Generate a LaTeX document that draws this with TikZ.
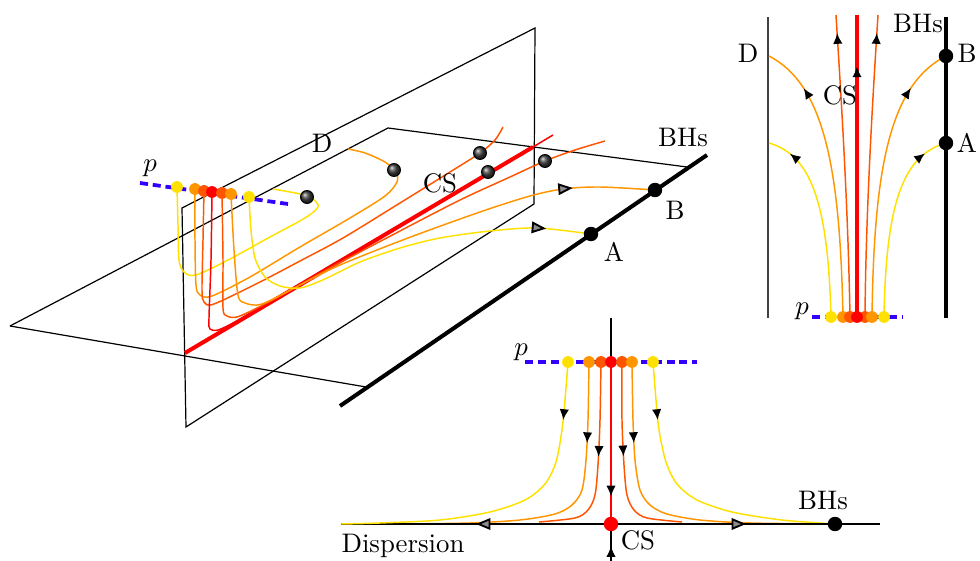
\documentclass[tikz,border=0pt]{standalone}
\usepackage{tikz}
\usetikzlibrary{arrows.meta, decorations.markings}

\definecolor{cyel}{RGB}{255,225,0}
\definecolor{corg}{RGB}{255,150,0}
\definecolor{cored}{RGB}{255,85,0}
\definecolor{pblue}{RGB}{51,0,255}

\tikzset{
  frame/.style={line width=0.45pt},
  flow/.style={line width=0.55pt},
  pline/.style={pblue, line width=1.4pt, dash pattern=on 3pt off 1.8pt},
  dot/.style={circle, fill=#1, inner sep=0pt, minimum size=4.4pt},
  bigdot/.style={circle, fill=#1, inner sep=0pt, minimum size=5.4pt},
  cone/.style={circle, draw=black, line width=0.4pt, inner sep=0pt, minimum size=4.8pt, ball color=black!75},
  midarrow/.style={postaction={decorate}, decoration={markings, mark=at position #1 with {\arrow{Latex[length=4pt, width=3.5pt, color=black]}}}},
  conearrow/.style={postaction={decorate}, decoration={markings, mark=at position #1 with {\arrow{Triangle[length=5.4pt, width=4.3pt, color=black, fill=black!45, line width=0.7pt]}}}}
}

\begin{document}
\begin{tikzpicture}[x=0.373pt, y=-0.373pt]
\useasboundingbox (0,0) rectangle (980,561);

% three dimensional view
\coordinate (h-l) at (10,326);
\coordinate (h-bk) at (388,128);
\coordinate (h-br) at (687,167);
\coordinate (h-fr) at (366,387);
\coordinate (v-tl) at (182,208);
\coordinate (v-tr) at (535,28);
\coordinate (v-br) at (534,204);
\coordinate (v-bl) at (186,427);
\coordinate (cs-f) at (185,353);
\coordinate (cs-b) at (533,147);
\coordinate (cs-e) at (553,135);
\coordinate (bh-f) at (340,406);
\coordinate (bh-b) at (707,155);
\coordinate (g-a) at (591,234);
\coordinate (g-b) at (655,190);

\draw[frame] (h-l) -- (h-bk) -- (h-br);
\draw[frame] (h-l) -- (h-fr);
\draw[frame] (v-tl) -- (v-tr) -- (v-br) -- (v-bl) -- cycle;
\draw[line width=1.5pt] (bh-f) -- (bh-b);
\draw[red, line width=1.5pt] (cs-f) -- (cs-b);
\draw[red, flow] (cs-b) -- (cs-e);

\draw[pline] (140,183) -- (288,204);
\node[dot=cyel] (t-y1) at (177,187) {};
\node[dot=corg] (t-o1) at (195,189) {};
\node[dot=cored] (t-r1) at (204,191) {};
\node[dot=red] (t-c) at (212,192) {};
\node[dot=cored] (t-r2) at (222,193) {};
\node[dot=corg] (t-o2) at (231,194) {};
\node[dot=cyel] (t-y2) at (249,197) {};

\draw[cyel, flow] plot[smooth] coordinates {(t-y1.center) (178,225) (179,260) (184,272) (196,275) (230,259) (270,237) (305,218) (318,207) (313,199) (300,194) (273,189)};
\draw[corg, flow] plot[smooth] coordinates {(t-o1.center) (195,240) (196,285) (200,295) (212,296) (250,277) (300,247) (350,218) (385,196) (397,182) (396,172) (385,162) (365,153) (348,149)};
\draw[cored, flow] plot[smooth] coordinates {(t-r1.center) (203,240) (202,290) (204,302) (214,304) (260,282) (300,261) (343,238) (400,203) (450,172) (480,153) (495,140) (503,127)};
\draw[red, flow] plot[smooth] coordinates {(t-c.center) (211,260) (209,318) (210,329) (218,330) (235,322) (270,302) (330,267)};
\draw[cored, flow] plot[smooth] coordinates {(t-r2.center) (223,260) (223,308) (227,316) (240,316) (280,296) (330,268) (400,231) (460,200) (510,177) (545,161) (575,150) (605,141)};
\draw[corg, flow, conearrow=0.849] plot[smooth] coordinates {(t-o2.center) (234,250) (238,295) (245,303) (262,304) (300,285) (340,265) (408,238) (480,212) (530,196) (563,189) (600,187) (g-b)};
\draw[cyel, flow, conearrow=0.893] plot[smooth] coordinates {(t-y2.center) (251,230) (255,258) (265,277) (280,286) (300,288) (325,279) (360,262) (400,248) (440,238) (490,231) (537,228) (g-a)};

\node[bigdot=black] (g-adot) at (g-a) {};
\node[bigdot=black] (g-bdot) at (g-b) {};
\node[cone] (k-1) at (307,197) {};
\node[cone] (k-2) at (394,170) {};
\node[cone] (k-3) at (480,153) {};
\node[cone] (k-4) at (488,172) {};
\node[cone] (k-5) at (545,161) {};

\node (lbl-p1) at (150,168) {$p$};
\node (lbl-d1) at (322,143) {D};
\node (lbl-cs1) at (440,183) {CS};
\node (lbl-bh1) at (683,137) {BHs};
\node (lbl-b1) at (675,210) {B};
\node (lbl-a1) at (614,252) {A};

% top right panel
\coordinate (r-b) at (946,56);
\coordinate (r-a) at (946,143);
\draw[black!75, line width=0.6pt] (768,17) -- (768,318);
\draw[line width=1.5pt] (946,17) -- (946,318);
\draw[pline] (812,317) -- (903,317);
\node[dot=cyel] (r-y1) at (831,317) {};
\node[dot=corg] (r-o1) at (843,317) {};
\node[dot=cored] (r-r1) at (850,317) {};
\node[dot=cored] (r-r2) at (865,317) {};
\node[dot=corg] (r-o2) at (872,317) {};
\node[dot=cyel] (r-y2) at (884,317) {};
\node[dot=red] (r-c) at (857,317) {};

\draw[red, line width=1.6pt, midarrow=0.83] (r-c.center) -- (857,15);
\draw[cyel, flow, midarrow=0.88] (r-y1.center) .. controls (828,200) and (810,155) .. (769,143);
\draw[corg, flow, midarrow=0.83] (r-o1.center) .. controls (840,170) and (825,85) .. (769,56);
\draw[cored, flow, midarrow=0.94] (r-r1.center) .. controls (848,200) and (840,80) .. (836,15);
\draw[cored, flow, midarrow=0.94] (r-r2.center) .. controls (866,200) and (874,80) .. (878,15);
\draw[corg, flow, midarrow=0.83] (r-o2.center) .. controls (874,170) and (889,85) .. (r-b);
\draw[cyel, flow, midarrow=0.88] (r-y2.center) .. controls (886,200) and (904,155) .. (r-a);
\node[bigdot=black] (r-bdot) at (r-b) {};
\node[bigdot=black] (r-adot) at (r-a) {};

\node (lbl-d2) at (748,53) {D};
\node (lbl-b2) at (967,53) {B};
\node (lbl-a2) at (967,143) {A};
\node (lbl-bh2) at (918,23) {BHs};
\node (lbl-cs2) at (840,95) {CS};
\node (lbl-p2) at (802,311) {$p$};

% bottom panel
\coordinate (b-w) at (341,524);
\coordinate (b-e) at (880,524);
\coordinate (b-d) at (401,524);
\coordinate (b-cs) at (611,524);
\coordinate (b-bh) at (835,524);
\coordinate (b-top) at (611,318);
\coordinate (b-bot) at (611,561);

\draw[frame] (b-w) -- (b-e);
\draw[frame] (b-top) -- (b-bot);
\draw[frame, midarrow=0.4] (b-bot) -- (b-cs);
\draw[pline] (525,362) -- (697,362);
\node[dot=cyel] (b-y1) at (568,362) {};
\node[dot=corg] (b-o1) at (589,362) {};
\node[dot=cored] (b-r1) at (601,362) {};
\node[dot=red] (b-c) at (611,362) {};
\node[dot=cored] (b-r2) at (622,362) {};
\node[dot=corg] (b-o2) at (632,362) {};
\node[dot=cyel] (b-y2) at (653,362) {};

\draw[cyel, flow, midarrow=0.172] plot[smooth] coordinates {(b-y1.center) (565,400) (562,430) (556,462) (545,484) (525,500) (490,512) (440,520) (380,523) (b-w)};
\draw[corg, flow, midarrow=0.253] plot[smooth] coordinates {(b-o1.center) (588,420) (586,460) (582,490) (572,505) (555,514) (520,520) (470,523) (b-d)};
\draw[cored, flow, midarrow=0.47] plot[smooth] coordinates {(b-r1.center) (600,420) (598,465) (595,495) (588,510) (575,518) (539,522)};
\draw[cored, flow, midarrow=0.47] plot[smooth] coordinates {(b-r2.center) (622,420) (624,465) (627,495) (634,510) (647,518) (682,522)};
\draw[corg, flow, midarrow=0.242] plot[smooth] coordinates {(b-o2.center) (633,420) (635,460) (640,490) (650,505) (667,514) (700,520) (750,523) (b-bh)};
\draw[cyel, flow, midarrow=0.199] plot[smooth] coordinates {(b-y2.center) (656,400) (659,430) (666,462) (677,484) (697,500) (732,512) (782,520) (b-bh)};
\draw[red, line width=0.6pt, midarrow=0.83] (b-c.center) -- (b-cs);

\draw[line width=0.9pt, conearrow=0.643] (b-cs) -- (b-d);
\draw[line width=0.9pt, conearrow=0.603] (b-cs) -- (b-bh);
\node[bigdot=red] (b-csdot) at (b-cs) {};
\node[bigdot=black] (b-bhdot) at (b-bh) {};

\node (lbl-p3) at (521,352) {$p$};
\node (lbl-bh3) at (823,500) {BHs};
\node (lbl-cs3) at (638,540) {CS};
\node (lbl-disp) at (403,546) {Dispersion};
\end{tikzpicture}
\end{document}
